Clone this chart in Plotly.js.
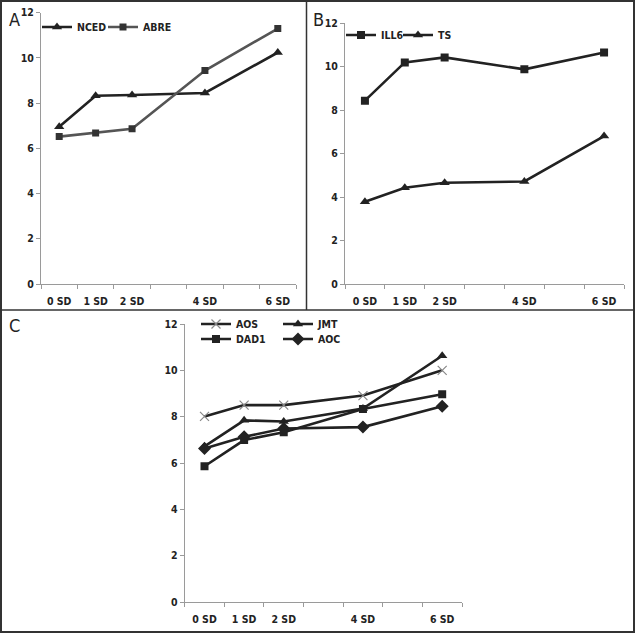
<!DOCTYPE html>
<html>
<head>
<meta charset="utf-8">
<script src="https://cdn.plot.ly/plotly-3.0.1.min.js"></script>
<style>
html,body{margin:0;padding:0;background:#fff;}
#chart{width:635px;height:633px;}
</style>
</head>
<body>
<div id="chart"></div>
<script>
// SD levels (x categories) and their labels
const sdLevels = [0, 1, 2, 4, 6];
const sdLabels = ['0 SD', '1 SD', '2 SD', '4 SD', '6 SD'];

// Panel A
const nced = [6.96, 8.33, 8.36, 8.45, 10.24];
const abre = [6.52, 6.68, 6.87, 9.44, 11.30];
// Panel B
const ill6 = [8.44, 10.20, 10.43, 9.88, 10.66];
const ts   = [3.79, 4.43, 4.66, 4.72, 6.81];
// Panel C
const aos  = [8.01, 8.50, 8.50, 8.91, 10.00];
const jmt  = [6.72, 7.84, 7.79, 8.35, 10.63];
const dad1 = [5.86, 6.99, 7.33, 8.33, 8.97];
const aoc  = [6.63, 7.13, 7.49, 7.55, 8.45];

const FONT = 'Liberation Sans Narrow, Arial Narrow, DejaVu Sans Condensed, sans-serif';
const DARK = '#222222';

function tr(y, name, xa, ya, leg, color, symbol, msize, mcolor, mline) {
  return {
    x: sdLevels, y: y, name: name, type: 'scatter', mode: 'lines+markers',
    xaxis: xa, yaxis: ya, legend: leg,
    line: {color: color, width: 2.6},
    marker: {symbol: symbol, size: msize, color: mcolor || color,
             line: mline || {width: 0}},
    hoverinfo: 'skip'
  };
}

const data = [
  tr(nced, 'NCED', 'x', 'y', 'legend', DARK, 'triangle-up', 9),
  tr(abre, 'ABRE', 'x', 'y', 'legend2', '#555555', 'square', 7, '#333333'),
  tr(ill6, 'ILL6', 'x2', 'y2', 'legend3', DARK, 'square', 8),
  tr(ts,   'TS',   'x2', 'y2', 'legend4', DARK, 'triangle-up', 9),
  tr(aos,  'AOS',  'x3', 'y3', 'legend5', DARK, 'x-thin-open', 9, '#888888', {width: 1.2, color: '#888888'}),
  tr(jmt,  'JMT',  'x3', 'y3', 'legend6', DARK, 'triangle-up', 9),
  tr(dad1, 'DAD1', 'x3', 'y3', 'legend7', DARK, 'square', 8),
  tr(aoc,  'AOC',  'x3', 'y3', 'legend8', DARK, 'diamond', 10)
];

const tickFont = {family: FONT, size: 10.5, color: '#222', weight: 'bold'};

function xAxis(domain, anchor) {
  return {
    domain: domain, anchor: anchor, range: [-0.5, 6.5],
    tickmode: 'array', tickvals: sdLevels, ticktext: sdLabels,
    ticks: 'outside', ticklen: 7, tickcolor: 'rgba(0,0,0,0)',
    showline: true, linecolor: '#9a9a9a', linewidth: 1,
    showgrid: false, zeroline: false, tickfont: tickFont, fixedrange: true,
    minor: {tickmode: 'linear', tick0: -0.5, dtick: 1, ticks: 'outside',
            ticklen: 4, tickcolor: '#9a9a9a', tickwidth: 1, showgrid: false}
  };
}
function yAxis(domain, anchor) {
  return {
    domain: domain, anchor: anchor, range: [0, 12], tickmode: 'linear',
    tick0: 0, dtick: 2, ticks: 'outside', ticklen: 4, tickcolor: '#9a9a9a',
    showline: true, linecolor: '#9a9a9a', linewidth: 1, showgrid: false,
    zeroline: false, tickfont: tickFont, fixedrange: true
  };
}

const W = 635, H = 633;
const px = v => v / W;
const py = v => 1 - v / H;

function leg(xp, yp) {
  return {
    orientation: 'h', x: px(xp), y: py(yp), xanchor: 'left', yanchor: 'middle',
    bgcolor: 'rgba(0,0,0,0)', borderwidth: 0,
    font: {family: FONT, size: 10.5, color: '#222', weight: 'bold'},
    itemclick: false, itemdoubleclick: false
  };
}

const letterFont = {family: 'DejaVu Sans Condensed, sans-serif', size: 18, color: '#222'};

const layout = {
  width: W, height: H,
  margin: {l: 0, r: 0, t: 0, b: 0},
  paper_bgcolor: '#ffffff', plot_bgcolor: '#ffffff',
  showlegend: true,
  xaxis:  xAxis([px(41), px(296)], 'y'),
  yaxis:  yAxis([py(284), py(12.7)], 'x'),
  xaxis2: xAxis([px(345), px(624)], 'y2'),
  yaxis2: yAxis([py(284), py(23.3)], 'x2'),
  xaxis3: xAxis([px(184.7), px(462)], 'y3'),
  yaxis3: yAxis([py(602), py(324)], 'x3'),
  legend:  leg(37, 27),
  legend2: leg(103, 27),
  legend3: leg(341, 35),
  legend4: leg(398, 35),
  legend5: leg(196, 324),
  legend6: leg(278, 324),
  legend7: leg(196, 339),
  legend8: leg(278, 339),
  shapes: [
    {type: 'rect', xref: 'paper', yref: 'paper', x0: px(1), x1: px(634), y0: py(632), y1: py(1),
     line: {color: '#333', width: 2}},
    {type: 'line', xref: 'paper', yref: 'paper', x0: px(306.5), x1: px(306.5), y0: py(310), y1: py(0),
     line: {color: '#333', width: 1.5}},
    {type: 'line', xref: 'paper', yref: 'paper', x0: 0, x1: 1, y0: py(310), y1: py(310),
     line: {color: '#333', width: 1.5}}
  ],
  annotations: [
    {text: 'A', xref: 'paper', yref: 'paper', x: px(7), y: py(19), xanchor: 'left', yanchor: 'middle',
     showarrow: false, font: letterFont},
    {text: 'B', xref: 'paper', yref: 'paper', x: px(311), y: py(19), xanchor: 'left', yanchor: 'middle',
     showarrow: false, font: letterFont},
    {text: 'C', xref: 'paper', yref: 'paper', x: px(7), y: py(326), xanchor: 'left', yanchor: 'middle',
     showarrow: false, font: letterFont}
  ]
};

Plotly.newPlot('chart', data, layout, {staticPlot: true, displayModeBar: false});
</script>
</body>
</html>
